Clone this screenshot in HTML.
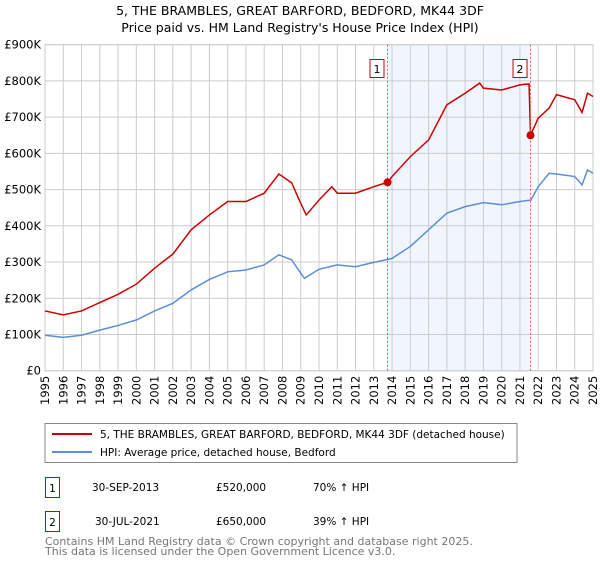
<!DOCTYPE html>
<html><head><meta charset="utf-8"><style>
body{margin:0;background:#fff;font-family:"Liberation Sans","DejaVu Sans",sans-serif;}
svg text{font-family:"DejaVu Sans","Liberation Sans",sans-serif;}
</style></head><body>
<svg id="chart" width="600" height="560" xmlns="http://www.w3.org/2000/svg">
<text x="300" y="15" font-size="12.5" text-anchor="middle">5, THE BRAMBLES, GREAT BARFORD, BEDFORD, MK44 3DF</text>
<text x="300" y="32" font-size="12.5" text-anchor="middle">Price paid vs. HM Land Registry's House Price Index (HPI)</text>
<g id="grid"></g><g id="series"></g><g id="axes"></g>
<rect x="45" y="423.5" width="472" height="39" fill="#fff" stroke="#888"/>
<line x1="52" y1="434" x2="92" y2="434" stroke="#cc0000" stroke-width="2"/>
<text x="100" y="438" font-size="10.5">5, THE BRAMBLES, GREAT BARFORD, BEDFORD, MK44 3DF (detached house)</text>
<line x1="52" y1="452" x2="92" y2="452" stroke="#5b8fd4" stroke-width="2"/>
<text x="100" y="456" font-size="10.5">HPI: Average price, detached house, Bedford</text>
<g>
<rect x="45.5" y="477.5" width="14" height="20" fill="#fff" stroke="#cc0000"/>
<text x="52.5" y="492" font-size="10.5" text-anchor="middle">1</text>
<text x="92" y="491" font-size="10.5">30-SEP-2013</text>
<text x="216" y="491" font-size="10.5">£520,000</text>
<text x="313" y="491" font-size="10.5">70% ↑ HPI</text></g>
<g>
<rect x="45.5" y="511.5" width="14" height="20" fill="#fff" stroke="#cc0000"/>
<text x="52.5" y="526" font-size="10.5" text-anchor="middle">2</text>
<text x="95" y="525" font-size="10.5">30-JUL-2021</text>
<text x="216" y="525" font-size="10.5">£650,000</text>
<text x="313" y="525" font-size="10.5">39% ↑ HPI</text></g>
<text x="45" y="545" font-size="11" fill="#777">Contains HM Land Registry data © Crown copyright and database right 2025.</text>
<text x="45" y="555" font-size="11" fill="#777">This data is licensed under the Open Government Licence v3.0.</text>
</svg>
<script>
const hpiYears=[1995,1996,1997,1998,1999,2000,2001,2002,2003,2004,2005,2006,2007,2007.8,2008.5,2009.2,2010,2011,2012,2013,2014,2015,2016,2017,2018,2019,2020,2021,2021.6,2022,2022.6,2023,2024,2024.4,2024.7,2025];
const hpiValues=[98,92,98,112,125,140,165,186,223,252,273,278,292,320,306,255,280,292,287,299,310,343,389,435,453,464,458,467,471,508,545,543,536,513,554,545];
const priceYears=[1995,1996,1997,1998,1999,2000,2001,2002,2003,2004,2005,2006,2007,2007.8,2008.5,2009,2009.3,2010,2010.7,2011,2012,2013,2013.75,2014,2015,2016,2017,2018,2018.8,2019,2020,2021,2021.5,2021.58,2022,2022.6,2023,2024,2024.4,2024.7,2025];
const priceValues=[165,154,165,188,211,239,283,322,389,430,467,467,490,543,519,462,430,471,508,490,490,508,520,536,591,637,734,766,794,780,775,789,792,650,697,725,762,748,713,766,757];
const saleYears=[2013.75,2021.58];
const saleValues=[520,650];
const saleLabels=["1","2"];
const yTicks=[0,100,200,300,400,500,600,700,800,900];
const yTickLabels=["£0","£100K","£200K","£300K","£400K","£500K","£600K","£700K","£800K","£900K"];
const xTicks=[1995,1996,1997,1998,1999,2000,2001,2002,2003,2004,2005,2006,2007,2008,2009,2010,2011,2012,2013,2014,2015,2016,2017,2018,2019,2020,2021,2022,2023,2024,2025];
const NS="http://www.w3.org/2000/svg";
const L=45,R=593,T=44.7,B=370.7;
const X=y=>L+(y-1995)/30*(R-L);
const Y=v=>B-v/900*(B-T);
function mk(tag,attrs,parent){const e=document.createElementNS(NS,tag);for(const k in attrs)e.setAttribute(k,attrs[k]);parent.appendChild(e);return e;}
const grid=document.getElementById('grid'),ser=document.getElementById('series'),ax=document.getElementById('axes');
const shade=mk('rect',{x:X(saleYears[0]),y:T,width:X(saleYears[1])-X(saleYears[0]),height:B-T,fill:'#eef2fc',opacity:0.8},grid);


yTicks.forEach((v,i)=>{
 const gl=mk('line',{x1:L,x2:R,y1:Y(v),y2:Y(v),stroke:'#ccc'},grid);
 
 
 const t=mk('text',{x:L-4,y:Y(v)+4,'font-size':11.5,'text-anchor':'end'},ax);
 t.textContent=yTickLabels[i];
 
 
});
xTicks.forEach(yr=>{
 const gl=mk('line',{x1:X(yr),x2:X(yr),y1:T,y2:B,stroke:'#ccc'},grid);
 
 
 const tx=X(yr)+4, ty=B+5;
 const t=mk('text',{x:tx,y:ty,'font-size':11.5,'text-anchor':'end'},ax);
 t.setAttribute('transform','rotate(-90 '+tx+' '+ty+')');
 t.textContent=yr;
 
 
});
const frame=mk('rect',{x:L,y:T,width:R-L,height:B-T,fill:'none',stroke:'#ccc'},grid);


const hp=mk('polyline',{points:hpiYears.map((y,i)=>X(y)+','+Y(hpiValues[i])).join(' '),fill:'none',stroke:'#5b8fd4','stroke-width':1.5},ser);


const pp=mk('polyline',{points:priceYears.map((y,i)=>X(y)+','+Y(priceValues[i])).join(' '),fill:'none',stroke:'#cc0000','stroke-width':1.5},ser);


saleYears.forEach((yr,i)=>{
 const vl=mk('line',{x1:X(yr),x2:X(yr),y1:T,y2:B,stroke:'#e06060','stroke-dasharray':'2,2'},ser);
 
 
 const c=mk('circle',{cx:X(yr),cy:Y(saleValues[i]),r:4,fill:'#cc0000'},ser);
 
 
 const b=mk('rect',{x:X(yr)-17.5,y:59.5,width:14,height:18,fill:'#fff',stroke:'#cc0000'},ser);
 
 
 const t=mk('text',{x:X(yr)-10.5,y:73,'font-size':11,'text-anchor':'middle'},ser);
 t.textContent=saleLabels[i];
 
 
});
</script>
</body></html>
